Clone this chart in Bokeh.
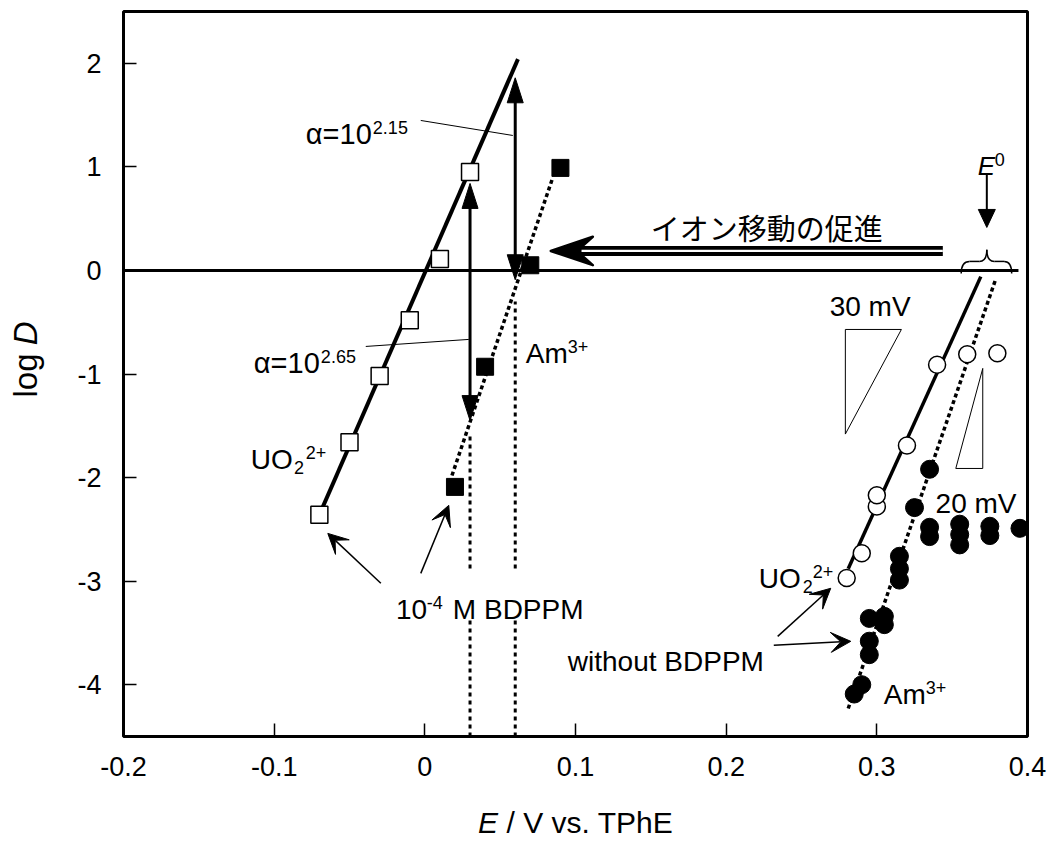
import math
from bokeh.plotting import figure
from bokeh.layouts import column, row
from bokeh.models import Label, Arrow, VeeHead, Range1d, FixedTicker
from bokeh.embed import file_html
from bokeh.resources import INLINE

# ---------------- data ----------------
# UO2(2+) with 1e-4 M BDPPM (open squares)
uo2_bdppm_x = [-0.07, -0.05, -0.03, -0.01, 0.01, 0.03]
uo2_bdppm_y = [-2.36, -1.66, -1.02, -0.48, 0.11, 0.95]
# Am(3+) with 1e-4 M BDPPM (filled squares)
am_bdppm_x = [0.02, 0.04, 0.07, 0.09]
am_bdppm_y = [-2.09, -0.93, 0.05, 0.99]
# UO2(2+) without BDPPM (open circles)
uo2_free_x = [0.28, 0.29, 0.30, 0.30, 0.32, 0.34, 0.36, 0.38]
uo2_free_y = [-2.97, -2.73, -2.28, -2.17, -1.69, -0.91, -0.81, -0.80]
# Am(3+) without BDPPM (filled circles)
am_free_x = [0.285, 0.29, 0.295, 0.295, 0.295, 0.305, 0.305, 0.315, 0.315, 0.315,
             0.325, 0.335, 0.335, 0.335, 0.355, 0.355, 0.355, 0.375, 0.375, 0.395]
am_free_y = [-4.09, -4.00, -3.71, -3.58, -3.36, -3.34, -3.42, -2.76, -2.88, -2.99,
             -2.29, -1.92, -2.48, -2.57, -2.45, -2.55, -2.65, -2.47, -2.56, -2.49]
# fitted lines (end points)
uo2_bdppm_fit_x = [-0.07, 0.0618]
uo2_bdppm_fit_y = [-2.36, 2.04]
am_bdppm_fit_x = [0.018, 0.085]
am_bdppm_fit_y = [-1.98, 0.90]
uo2_free_fit_x = [0.281, 0.369]
uo2_free_fit_y = [-2.88, -0.06]
am_free_fit_x = [0.281, 0.379]
am_free_fit_y = [-4.23, -0.08]
# half-wave potentials marked by dotted verticals
e_half_x = [0.03, 0.06]
e_half_top = [-1.58, -0.30]

x_ticks = [-0.2, -0.1, 0, 0.1, 0.2, 0.3, 0.4]
x_tick_labels = ["-0.2", "-0.1", "0", "0.1", "0.2", "0.3", "0.4"]
y_ticks = [-4, -3, -2, -1, 0, 1, 2]
y_tick_labels = ["-4", "-3", "-2", "-1", "0", "1", "2"]

FONT = "Liberation Sans"
JFONT = "Noto Sans CJK JP"

W, H = 1051, 845
YLAB_W = 60          # strip for the y-axis title
XLAB_H = 52          # strip for the x-axis title
PW, PH = W - YLAB_W, H - XLAB_H
BL, BR, BT, BB = 123 - YLAB_W, 24, 11, 57
X0, X1, Y0, Y1 = -0.2, 0.4, -4.5, 2.5
SX = (PW - BL - BR) / (X1 - X0)   # px per V
SY = (PH - BT - BB) / (Y1 - Y0)   # px per decade

p = figure(width=PW, height=PH, x_range=Range1d(X0, X1), y_range=Range1d(Y0, Y1),
           output_backend="svg", toolbar_location=None,
           min_border_left=BL, min_border_right=BR, min_border_top=BT, min_border_bottom=BB)
p.background_fill_color = "white"
p.border_fill_color = "white"
p.outline_line_color = "black"
p.outline_line_width = 3
p.grid.visible = False

for ax, ticks, labels in ((p.xaxis, x_ticks, x_tick_labels), (p.yaxis, y_ticks, y_tick_labels)):
    ax.ticker = FixedTicker(ticks=ticks)
    ax.major_label_overrides = dict(zip(ticks, labels))
    ax.axis_line_color = None
    ax.major_tick_in = 13
    ax.major_tick_out = 0
    ax.minor_tick_in = 0
    ax.minor_tick_out = 0
    ax.major_tick_line_width = 1.5
    ax.major_tick_line_color = "black"
    ax.major_label_text_font = FONT
    ax.major_label_text_font_size = "27px"
    ax.major_label_text_color = "black"
p.xaxis.major_label_standoff = 20
p.yaxis.major_label_standoff = 22

# ---------------- lines ----------------
p.line([X0, 0.394], [0, 0], line_color="black", line_width=3)
p.line(uo2_bdppm_fit_x, uo2_bdppm_fit_y, line_color="black", line_width=4)
p.line(am_bdppm_fit_x, am_bdppm_fit_y, line_color="black", line_width=3.5, line_dash="4 3")
p.line(uo2_free_fit_x, uo2_free_fit_y, line_color="black", line_width=3.5)
p.line(am_free_fit_x, am_free_fit_y, line_color="black", line_width=3.5, line_dash="4 3")
for xv, yt in zip(e_half_x, e_half_top):
    p.line([xv, xv], [Y0, yt], line_color="black", line_width=3, line_dash="4 4")

# white box behind "10-4 M BDPPM"
p.quad(left=[0.012], right=[0.10], bottom=[-3.36], top=[-2.905],
       fill_color="white", line_color=None)

# slope triangles
p.line([0.2791, 0.3163, 0.2791, 0.2791], [-0.57, -0.57, -1.58, -0.57], line_color="black", line_width=1)
p.line([0.3703, 0.3703, 0.3524, 0.3703], [-0.946, -1.912, -1.912, -0.946], line_color="black", line_width=1)

# ---------------- markers ----------------
p.scatter(am_free_x, am_free_y, marker="circle", size=18, fill_color="black", line_color="black", line_width=1)
p.scatter(uo2_free_x, uo2_free_y, marker="circle", size=17, fill_color="white", line_color="black", line_width=1.5)
p.scatter(am_bdppm_x, am_bdppm_y, marker="square", size=17, fill_color="black", line_color="black", line_width=1)
p.scatter(uo2_bdppm_x, uo2_bdppm_y, marker="square", size=17, fill_color="white", line_color="black", line_width=1.5)

# ---------------- arrows ----------------
def vhead(x, ytip, direction, length_px, halfw_px):
    yb = ytip - direction * length_px / SY
    return [x - halfw_px / SX, x, x + halfw_px / SX], [yb, ytip, yb]

heads_x, heads_y = [], []
# double-headed vertical arrows (alpha)
for xv, ylo, yhi in ((0.06, -0.09, 1.86), (0.03, -1.45, 0.84)):
    p.line([xv, xv], [ylo + 20 / SY, yhi - 20 / SY], line_color="black", line_width=3)
    hx, hy = vhead(xv, yhi, 1, 25, 8)
    heads_x.append(hx); heads_y.append(hy)
    hx, hy = vhead(xv, ylo, -1, 25, 8)
    heads_x.append(hx); heads_y.append(hy)
# E0 arrow
p.line([0.373, 0.373], [0.936, 0.415 + 16 / SY], line_color="black", line_width=2)
hx, hy = vhead(0.373, 0.415, -1, 18, 8.5)
heads_x.append(hx); heads_y.append(hy)
p.patches(heads_x, heads_y, fill_color="black", line_color="black", line_width=1)

# double-line arrow (promotion of ion transfer)
p.line([0.1009, 0.3438], [0.188, 0.188], line_color="black", line_width=10)
p.line([0.104, 0.3438], [0.188, 0.188], line_color="white", line_width=2.3)
p.patch([0.0836, 0.1115, 0.1009, 0.1115], [0.188, 0.325, 0.188, 0.051],
        fill_color="black", line_color="black", line_width=2.5, line_join="round")

# brace at E0
brace = [((0.356, -0.03), (0.3615, 0.087), (0.356, 0.087)),
         ((0.368, 0.087), (0.373, 0.20), (0.373, 0.087)),
         ((0.373, 0.20), (0.378, 0.087), (0.373, 0.087)),
         ((0.3845, 0.087), (0.3895, -0.03), (0.3895, 0.087))]
p.quadratic(x0=[b[0][0] for b in brace], y0=[b[0][1] for b in brace],
            x1=[b[1][0] for b in brace], y1=[b[1][1] for b in brace],
            cx=[b[2][0] for b in brace], cy=[b[2][1] for b in brace],
            line_color="black", line_width=1.5)
p.segment(x0=[0.3615, 0.378], y0=[0.087, 0.087], x1=[0.368, 0.3845], y1=[0.087, 0.087],
          line_color="black", line_width=1.5)

# thin pointer lines for alpha labels
p.segment(x0=[-0.0027, -0.0392], y0=[1.448, -0.734], x1=[0.0584, 0.0292], y1=[1.303, -0.666],
          line_color="black", line_width=1)

# label arrows
for xs, ys, xe, ye in ((-0.0292, -3.021, -0.0644, -2.539),
                       (-0.0027, -2.925, 0.0159, -2.268),
                       (0.2342, -3.533, 0.2694, -3.069),
                       (0.2316, -3.620, 0.2827, -3.581)):
    p.add_layout(Arrow(x_start=xs, y_start=ys, x_end=xe, y_end=ye, line_width=1.5, line_color="black",
                       end=VeeHead(size=20, fill_color="black", line_color="black", line_width=1)))

# ---------------- texts ----------------
def txt(fig, x, y, s, size=28, style="normal", align="left", baseline="alphabetic", angle=0.0, font=FONT):
    fig.add_layout(Label(x=x, y=y, text=s, text_font=font, text_font_size=f"{size}px",
                         text_font_style=style, text_align=align, text_baseline=baseline,
                         angle=angle, text_color="black"))

SUP = 7 / SY
# alpha labels
txt(p, -0.079, 1.313, "α=10", size=29)
txt(p, -0.0345, 1.313 + SUP, "2.15", size=18)
txt(p, -0.1135, -0.898, "α=10", size=29)
txt(p, -0.069, -0.898 + SUP, "2.65", size=18)
# UO2 2+ (left)
txt(p, -0.1155, -1.824, "UO")
txt(p, -0.0869, -1.824 - 8 / SY, "2", size=18)
txt(p, -0.079, -1.824 + SUP, "2+", size=18)
# UO2 2+ (right)
txt(p, 0.2216, -2.973, "UO")
txt(p, 0.2508, -2.973 - 8 / SY, "2", size=18)
txt(p, 0.2575, -2.973 + SUP, "2+", size=18)
# Am3+ labels
txt(p, 0.067, -0.80, "Am")
txt(p, 0.0949, -0.80 + SUP, "3+", size=18)
txt(p, 0.3046, -4.093, "Am")
txt(p, 0.3325, -4.093 + SUP, "3+", size=18)
# 10-4 M BDPPM
txt(p, -0.0192, -3.272, "10")
txt(p, 0.0013, -3.272 + SUP, "-4", size=18)
txt(p, 0.0186, -3.272, "M BDPPM")
# without BDPPM
txt(p, 0.0949, -3.774, "without BDPPM")
# slope labels
txt(p, 0.2687, -0.3475, "30 mV")
txt(p, 0.339, -2.249, "20 mV")
# Japanese label
txt(p, 0.150, 0.415, "イオン移動の促進", size=29, baseline="middle", font=JFONT)
# E0
txt(p, 0.367, 1.004, "E", size=26, style="italic")
txt(p, 0.3783, 1.004 + SUP, "0", size=18)


# ---------------- axis titles (separate strips, pixel coordinates) ----------------
def strip(w, h):
    f = figure(width=w, height=h, x_range=Range1d(0, w), y_range=Range1d(0, h),
               output_backend="svg", toolbar_location=None,
               x_axis_location=None, y_axis_location=None, min_border=0)
    f.outline_line_color = None
    f.grid.visible = False
    f.background_fill_color = "white"
    f.border_fill_color = "white"
    return f

yfig = strip(YLAB_W, PH)
txt(yfig, 25, PH - 374, "log", size=33, align="right", baseline="middle", angle=math.pi / 2)
txt(yfig, 25, PH - 365, "D", size=33, style="italic", align="left", baseline="middle", angle=math.pi / 2)

xfig = strip(W, XLAB_H)
txt(xfig, 477.5, XLAB_H - (822 - PH), "E", size=30, style="italic", baseline="middle")
txt(xfig, 506, XLAB_H - (822 - PH), "/ V vs. TPhE", size=30, baseline="middle")

layout = column(row(yfig, p, spacing=0), xfig, spacing=0)
open("out.html", "w").write(file_html(layout, INLINE))
